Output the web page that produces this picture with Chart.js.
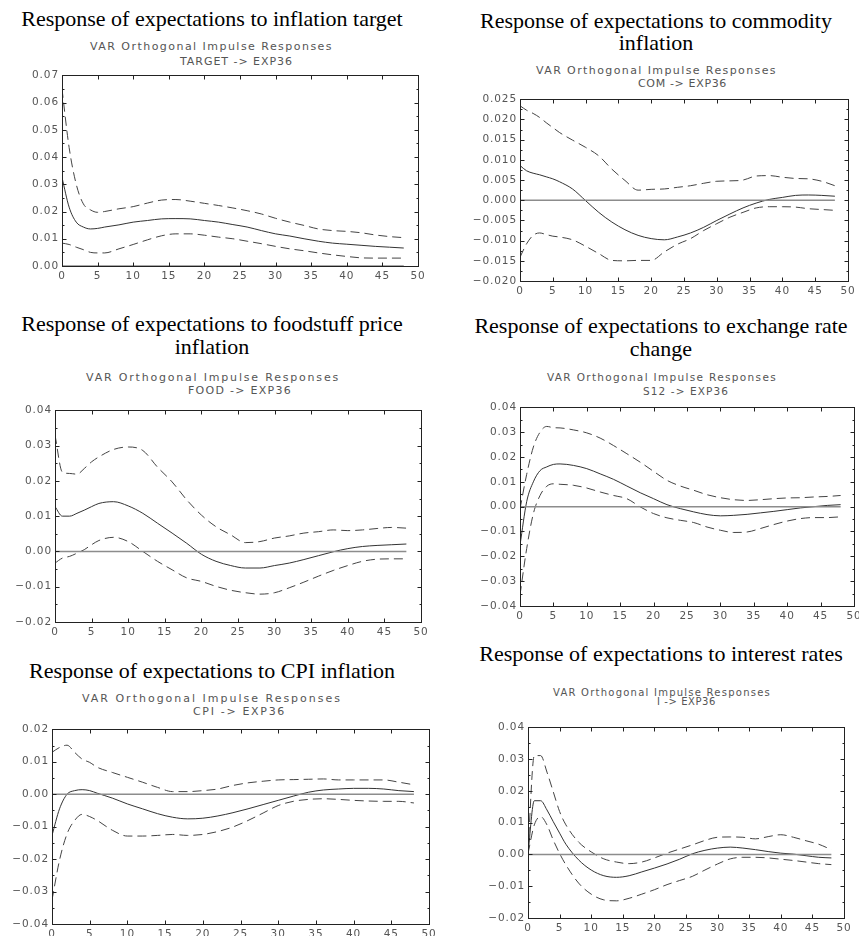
<!DOCTYPE html>
<html>
<head>
<meta charset="utf-8">
<title>Impulse responses of expectations</title>
<script src="https://cdn.jsdelivr.net/npm/chart.js@4.4.0/dist/chart.umd.min.js"></script>
<style>
    html, body { margin: 0; padding: 0; background: #fff; }
    body { width: 859px; height: 936px; position: relative; overflow: hidden; }
    .title { position: absolute; font-family: "Liberation Serif", "Times New Roman", serif; font-size: 22px; color: #000; text-align: center; white-space: nowrap; }
    .sub { position: absolute; font-family: "DejaVu Sans", sans-serif; color: #555; white-space: nowrap; }
    canvas { position: absolute; }
</style>
</head>
<body>
<script>
/* ============================================
   VAR orthogonal impulse responses -> EXP36
   ============================================ */

const horizons = [0, 1, 2, 3, 4, 5, 6, 8, 10, 12, 14, 16, 18, 20, 22, 24, 26, 28, 30, 32, 34, 36, 38, 40, 42, 44, 46, 48];
const xTicks = [0, 5, 10, 15, 20, 25, 30, 35, 40, 45, 50];

// TARGET -> EXP36
const targetResp  = [.0325, .0216, .0161, .0143, .0136, .0138, .0143, .0151, .0161, .0167, .0173, .0174, .0173, .0167, .0161, .0152, .0143, .0130, .0118, .0110, .0100, .0091, .0084, .0080, .0076, .0072, .0069, .0066];
const targetUpper = [.0650, .0435, .0300, .0228, .0206, .0197, .0200, .0210, .0218, .0231, .0242, .0244, .0238, .0230, .0222, .0213, .0203, .0191, .0175, .0161, .0149, .0136, .0130, .0127, .0122, .0114, .0108, .0104];
const targetLower = [.0084, .0079, .0069, .0060, .0050, .0048, .0048, .0063, .0079, .0096, .0111, .0118, .0118, .0113, .0106, .0100, .0091, .0082, .0072, .0063, .0056, .0048, .0041, .0035, .0030, .0029, .0029, .0029];

// COM -> EXP36
const comResp  = [.0086, .0073, .0067, .0063, .0058, .0053, .0046, .0028, -.0001, -.0030, -.0054, -.0073, -.0087, -.0095, -.0098, -.0091, -.0081, -.0067, -.0050, -.0034, -.0019, -.0007, .0002, .0007, .0012, .0013, .0012, .0010];
const comUpper = [.0234, .0223, .0215, .0205, .0192, .0180, .0168, .0149, .0131, .0110, .0077, .0049, .0025, .0027, .0028, .0032, .0036, .0042, .0047, .0048, .0050, .0060, .0061, .0057, .0054, .0053, .0047, .0036];
const comLower = [-.0141, -.0108, -.0087, -.0081, -.0085, -.0089, -.0091, -.0098, -.0114, -.0132, -.0149, -.0150, -.0149, -.0149, -.0128, -.0109, -.0095, -.0075, -.0058, -.0042, -.0030, -.0019, -.0016, -.0016, -.0017, -.0021, -.0023, -.0025];

// FOOD -> EXP36
const foodResp  = [.0127, .0100, .0100, .0108, .0117, .0127, .0136, .0141, .0129, .0108, .0080, .0052, .0023, -.0008, -.0028, -.0040, -.0047, -.0047, -.0040, -.0033, -.0023, -.0012, -.0001, .0008, .0014, .0017, .0019, .0021];
const foodUpper = [.0330, .0225, .0221, .0219, .0235, .0254, .0268, .0289, .0296, .0286, .0239, .0197, .0146, .0103, .0070, .0047, .0025, .0028, .0038, .0044, .0052, .0056, .0061, .0059, .0061, .0065, .0068, .0066];
const foodLower = [-.0033, -.0019, -.0014, -.0005, .0005, .0019, .0031, .0040, .0028, .0000, -.0028, -.0052, -.0075, -.0085, -.0099, -.0110, -.0117, -.0121, -.0117, -.0103, -.0087, -.0070, -.0054, -.0040, -.0028, -.0022, -.0021, -.0021];

// S12 -> EXP36
const s12Resp  = [-.0155, .0020, .0100, .0145, .0160, .0170, .0172, .0166, .0153, .0132, .0110, .0083, .0056, .0032, .0008, -.0008, -.0021, -.0032, -.0037, -.0035, -.0031, -.0025, -.0019, -.0012, -.0005, .0000, .0005, .0008];
const s12Upper = [-.0010, .0130, .0240, .0300, .0323, .0318, .0317, .0309, .0297, .0276, .0246, .0213, .0179, .0142, .0106, .0083, .0066, .0048, .0036, .0028, .0025, .0028, .0032, .0035, .0036, .0039, .0041, .0045];
const s12Lower = [-.0356, -.0169, -.0028, .0045, .0082, .0092, .0090, .0086, .0075, .0059, .0045, .0032, -.0001, -.0028, -.0045, -.0055, -.0064, -.0082, -.0095, -.0104, -.0102, -.0088, -.0072, -.0058, -.0048, -.0044, -.0044, -.0041];

// CPI -> EXP36
const cpiResp  = [-.0127, -.0045, .0000, .0011, .0014, .0011, .0003, -.0012, -.0030, -.0045, -.0060, -.0071, -.0076, -.0074, -.0067, -.0057, -.0045, -.0032, -.0019, -.0006, .0006, .0013, .0016, .0018, .0018, .0016, .0011, .0008];
const cpiUpper = [.0129, .0144, .0151, .0129, .0108, .0098, .0083, .0067, .0052, .0037, .0021, .0008, .0008, .0011, .0016, .0027, .0035, .0040, .0044, .0045, .0046, .0047, .0044, .0044, .0044, .0044, .0037, .0029];
const cpiLower = [-.0326, -.0203, -.0122, -.0081, -.0062, -.0069, -.0081, -.0111, -.0129, -.0129, -.0127, -.0124, -.0127, -.0124, -.0115, -.0101, -.0081, -.0058, -.0035, -.0022, -.0016, -.0014, -.0016, -.0019, -.0021, -.0022, -.0022, -.0027];

// I -> EXP36
const rateResp  = [.0003, .0169, .0169, .0140, .0103, .0067, .0032, -.0017, -.0049, -.0067, -.0072, -.0067, -.0055, -.0043, -.0030, -.0015, .0002, .0013, .0020, .0023, .0020, .0015, .0009, .0004, .0001, -.0004, -.0009, -.0011];
const rateUpper = [.0014, .0311, .0311, .0259, .0197, .0135, .0093, .0039, .0008, -.0014, -.0024, -.0029, -.0024, -.0011, .0004, .0017, .0030, .0044, .0054, .0055, .0054, .0049, .0056, .0062, .0054, .0043, .0032, .0015];
const rateLower = [.0003, .0093, .0119, .0093, .0045, .0003, -.0033, -.0090, -.0125, -.0143, -.0146, -.0138, -.0125, -.0111, -.0095, -.0082, -.0069, -.0049, -.0030, -.0014, -.0009, -.0009, -.0011, -.0015, -.0019, -.0024, -.0029, -.0032];

// page layout of the six panels (plot box in page pixels)
const panels = [
    { title: ['Response of expectations to inflation target'], cx: 212, top: 7, lh: 23,
      sub: ['TARGET -> EXP36', 90, 243, 47, 180, 113, 62], fs: 11,
      box: { l: 62, r: 418, t: 74, b: 266 }, y: [0, 0.07, 0.01, 2],
      resp: targetResp, upper: targetUpper, lower: targetLower },
    { title: ['Response of expectations to commodity', 'inflation'], cx: 656, top: 10, lh: 22,
      sub: ['COM -> EXP36', 536, 241, 71, 638, 89, 84], fs: 11,
      box: { l: 520, r: 848, t: 98, b: 281 }, y: [-0.02, 0.025, 0.005, 3],
      resp: comResp, upper: comUpper, lower: comLower },
    { title: ['Response of expectations to foodstuff price', 'inflation'], cx: 212, top: 312, lh: 23,
      sub: ['FOOD -> EXP36', 86, 254, 378, 188, 104, 391], fs: 11,
      box: { l: 55, r: 421, t: 409, b: 622 }, y: [-0.02, 0.04, 0.01, 2],
      resp: foodResp, upper: foodUpper, lower: foodLower },
    { title: ['Response of expectations to exchange rate', 'change'], cx: 661, top: 314, lh: 23,
      sub: ['S12 -> EXP36', 547, 230, 377, 643, 86, 391], fs: 10.5,
      box: { l: 520, r: 854, t: 406, b: 606 }, y: [-0.04, 0.04, 0.01, 2],
      resp: s12Resp, upper: s12Upper, lower: s12Lower },
    { title: ['Response of expectations to CPI inflation'], cx: 212, top: 659, lh: 23,
      sub: ['CPI -> EXP36', 82, 260, 699, 193, 93, 712], fs: 11,
      box: { l: 52, r: 429, t: 728, b: 924 }, y: [-0.04, 0.02, 0.01, 2],
      resp: cpiResp, upper: cpiUpper, lower: cpiLower },
    { title: ['Response of expectations to interest rates'], cx: 661, top: 642, lh: 23,
      sub: ['I -> EXP36', 553, 218, 693, 657, 59, 702], fs: 10,
      box: { l: 528, r: 844, t: 726, b: 918 }, y: [-0.02, 0.04, 0.01, 2],
      resp: rateResp, upper: rateUpper, lower: rateLower }
];

const AXIS_W = 52;
const AXIS_H = 22;
const PAD_TOP = 8;
const PAD_RIGHT = 14;

function toPoints(values) {
    return horizons.map((h, i) => ({ x: h, y: values[i] }));
}

function formatTick(v, dec) {
    const s = Math.abs(v).toFixed(dec);
    return v < -1e-9 ? '\u2212' + s : s;
}

// spread a line of text so it covers the width it has in the picture
function addSubLine(text, left, width, capCenter, fs) {
    const el = document.createElement('div');
    el.className = 'sub';
    el.textContent = text;
    el.style.fontSize = fs + 'px';
    el.style.lineHeight = (fs * 1.164) + 'px';
    el.style.left = left + 'px';
    el.style.top = (capCenter - 0.564 * fs) + 'px';
    document.body.appendChild(el);
    const natural = el.getBoundingClientRect().width;
    el.style.letterSpacing = ((width - natural) / text.length) + 'px';
}

function addTitle(p) {
    const el = document.createElement('div');
    el.className = 'title';
    el.style.width = '440px';
    el.style.left = (p.cx - 220) + 'px';
    el.style.top = p.top + 'px';
    el.style.lineHeight = p.lh + 'px';
    el.innerHTML = p.title.join('<br>');
    document.body.appendChild(el);
}

// frame with inward tick marks, as in the RATS output
const framePlugin = {
    id: 'frame',
    beforeDraw(chart) {
        chart.ctx.letterSpacing = '0.9px';
    },
    afterDatasetsDraw(chart) {
        const { ctx, chartArea: a, scales } = chart;
        const x = scales.x, y = scales.y;
        const L = Math.round(a.left) + 0.5, R = Math.round(a.right) + 0.5;
        const T = Math.round(a.top) + 0.5, B = Math.round(a.bottom) + 0.5;
        ctx.save();
        ctx.strokeStyle = '#222';
        ctx.lineWidth = 1;
        ctx.strokeRect(L, T, R - L, B - T);
        ctx.beginPath();
        x.ticks.forEach(t => {
            const px = Math.round(x.getPixelForValue(t.value)) + 0.5;
            ctx.moveTo(px, B); ctx.lineTo(px, B - 4);
            ctx.moveTo(px, T); ctx.lineTo(px, T + 4);
        });
        const step = chart.options.scales.y.ticks.stepSize;
        y.ticks.forEach(t => {
            const py = Math.round(y.getPixelForValue(t.value)) + 0.5;
            ctx.moveTo(L, py); ctx.lineTo(L + 4, py);
            ctx.moveTo(R, py); ctx.lineTo(R - 4, py);
            if (t.value + step / 2 < y.max) {
                const pm = Math.round(y.getPixelForValue(t.value + step / 2)) + 0.5;
                ctx.moveTo(L, pm); ctx.lineTo(L + 2, pm);
                ctx.moveTo(R, pm); ctx.lineTo(R - 2, pm);
            }
        });
        ctx.stroke();
        ctx.restore();
    }
};

function lineSet(values, color, dash) {
    return {
        data: toPoints(values),
        borderColor: color,
        borderWidth: 1,
        borderDash: dash,
        pointRadius: 0,
        cubicInterpolationMode: 'monotone',
        fill: false
    };
}

function createPanel(p) {
    addTitle(p);
    addSubLine('VAR Orthogonal Impulse Responses', p.sub[1], p.sub[2], p.sub[3], p.fs);
    addSubLine(p.sub[0], p.sub[4], p.sub[5], p.sub[6], p.fs);

    const canvas = document.createElement('canvas');
    const w = p.box.r - p.box.l + AXIS_W + PAD_RIGHT;
    const h = p.box.b - p.box.t + PAD_TOP + AXIS_H;
    canvas.width = w;
    canvas.height = h;
    canvas.style.width = w + 'px';
    canvas.style.height = h + 'px';
    canvas.style.left = (p.box.l - AXIS_W) + 'px';
    canvas.style.top = (p.box.t - PAD_TOP) + 'px';
    document.body.appendChild(canvas);

    const [yMin, yMax, yStep, dec] = p.y;
    const tickFont = { family: '"DejaVu Sans", sans-serif', size: 10.5 };

    new Chart(canvas.getContext('2d'), {
        type: 'line',
        data: {
            datasets: [
                { data: toPoints(horizons.map(() => 0)), borderColor: '#8c8c8c', borderWidth: 1.5, pointRadius: 0, fill: false },
                lineSet(p.upper, '#444', [9, 5]),
                lineSet(p.lower, '#444', [9, 5]),
                lineSet(p.resp, '#333', [])
            ]
        },
        options: {
            responsive: false,
            animation: false,
            devicePixelRatio: 1,
            layout: { padding: { left: 0, top: PAD_TOP, right: PAD_RIGHT, bottom: 0 } },
            plugins: { legend: { display: false }, tooltip: { enabled: false } },
            scales: {
                x: {
                    type: 'linear', min: 0, max: 50,
                    grid: { display: false, drawTicks: false },
                    border: { display: false },
                    afterBuildTicks: (scale) => { scale.ticks = xTicks.map(v => ({ value: v })); },
                    afterFit: (scale) => { scale.height = AXIS_H; },
                    ticks: { color: '#555', font: tickFont, padding: 4, maxRotation: 0, autoSkip: false, callback: (v) => String(v) }
                },
                y: {
                    type: 'linear', min: yMin, max: yMax,
                    grid: { display: false, drawTicks: false },
                    border: { display: false },
                    afterFit: (scale) => { scale.width = AXIS_W; },
                    ticks: { stepSize: yStep, color: '#555', font: tickFont, padding: 3, callback: (v) => formatTick(v, dec) }
                }
            }
        },
        plugins: [framePlugin]
    });
}

panels.forEach(createPanel);
</script>
</body>
</html>
